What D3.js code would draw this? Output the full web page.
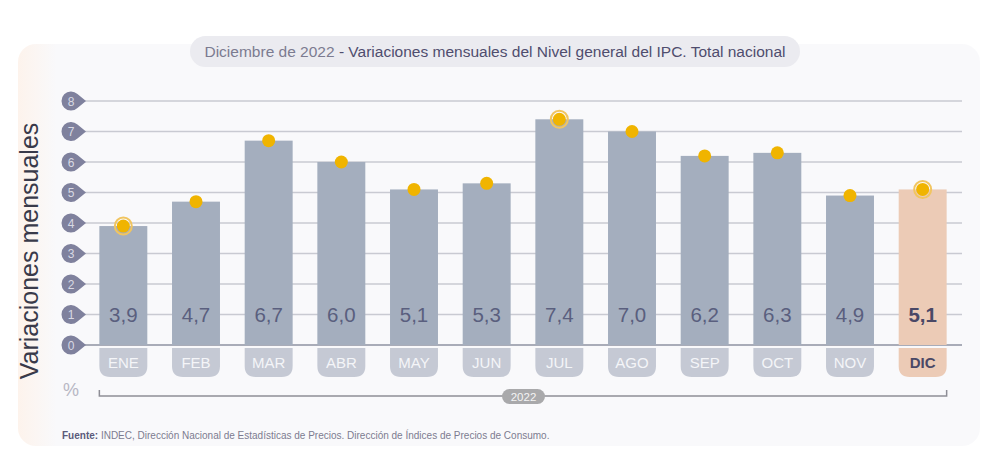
<!DOCTYPE html>
<html><head><meta charset="utf-8">
<script src="https://cdn.jsdelivr.net/npm/d3@7"></script>
<style>body{margin:0;background:#fff;font-family:"Liberation Sans",Arial,sans-serif}</style>
</head><body><svg id="c" width="1000" height="466"></svg>
<script>
const months = ["ENE","FEB","MAR","ABR","MAY","JUN","JUL","AGO","SEP","OCT","NOV","DIC"];
const values = [3.9,4.7,6.7,6.0,5.1,5.3,7.4,7.0,6.2,6.3,4.9,5.1];
const ringed = ["ENE","JUL","DIC"];
const yTicks = [0,1,2,3,4,5,6,7,8];
const yearLabel = "2022";

const svg = d3.select("#c");
const defs = svg.append("defs");
const g1 = defs.append("linearGradient").attr("id","lg").attr("x1",0).attr("x2",1);
g1.append("stop").attr("offset","0").attr("stop-color","#fdf3ec");
g1.append("stop").attr("offset","0.04").attr("stop-color","#f9f9fb");
g1.append("stop").attr("offset","1").attr("stop-color","#f9f9fb");

svg.append("rect").attr("x",18).attr("y",44).attr("width",962).attr("height",402).attr("rx",18).attr("fill","url(#lg)");

// title pill
svg.append("rect").attr("x",190).attr("y",36).attr("width",610).attr("height",31).attr("rx",15.5).attr("fill","#ebebf0");
const t = svg.append("text").attr("x",495).attr("y",57).attr("text-anchor","middle").attr("font-size",15.5).attr("font-family","Liberation Sans, Arial");
t.append("tspan").attr("fill","#7c7b90").text("Diciembre de 2022 ");
t.append("tspan").attr("fill","#4f4d6e").text("- Variaciones mensuales del Nivel general del IPC. Total nacional");

const y = d3.scaleLinear().domain([0,8]).range([345,101]);
const x = d3.scaleBand().domain(months).range([87,959]).paddingInner(0.34).paddingOuter(0.17);

// gridlines
svg.append("g").selectAll("line").data(yTicks).join("line")
  .attr("x1",85).attr("x2",962).attr("y1",d=>y(d)).attr("y2",d=>y(d))
  .attr("stroke",d=>d===0?"#a9acb8":"#c9cad2").attr("stroke-width",d=>d===0?2:1.3);

// y tick badges
const tg = svg.append("g").selectAll("g").data(yTicks).join("g").attr("transform",d=>`translate(71,${y(d)})`);
tg.append("path").attr("d","M 6.45 -6.98 L 15 0 L 6.45 6.98 A 9.5 9.5 0 1 1 6.45 -6.98 Z")
  .attr("fill","#7f819d");
tg.append("text").attr("x",0).attr("y",4.5).attr("text-anchor","middle").attr("font-size",12).attr("fill","#d8d9e4").text(d=>d);

// bars
svg.append("g").selectAll("rect").data(months).join("rect")
  .attr("x",d=>x(d)).attr("width",x.bandwidth())
  .attr("y",(d,i)=>y(values[i])).attr("height",(d,i)=>y(0)-y(values[i]))
  .attr("fill",d=>d==="DIC"?"#eccbb6":"#a4aebe");

// value labels
svg.append("g").selectAll("text").data(months).join("text")
  .attr("x",d=>x(d)+x.bandwidth()/2).attr("y",y(1)+7).attr("text-anchor","middle")
  .attr("font-size",20.5).attr("font-weight",d=>d==="DIC"?"bold":"normal")
  .attr("fill",d=>d==="DIC"?"#4a4866":"#5a5f7e")
  .text((d,i)=>values[i].toFixed(1).replace(".",","));

// month pills
const mp = svg.append("g").selectAll("g").data(months).join("g");
mp.append("path").attr("d",d=>{const x0=x(d), w=x.bandwidth(), y0=348, h=29, r=11;
  return `M${x0},${y0} H${x0+w} V${y0+h-r} Q${x0+w},${y0+h} ${x0+w-r},${y0+h} H${x0+r} Q${x0},${y0+h} ${x0},${y0+h-r} Z`;})
  .attr("fill",d=>d==="DIC"?"#eccbb6":"#c5c9d4");
mp.append("text").attr("x",d=>x(d)+x.bandwidth()/2).attr("y",368).attr("text-anchor","middle")
  .attr("font-size",15).attr("font-weight",d=>d==="DIC"?"bold":"normal")
  .attr("fill",d=>d==="DIC"?"#4a4866":"#f4f5f8").text(d=>d);

// dots
const dg = svg.append("g").selectAll("g").data(months).join("g")
  .attr("transform",(d,i)=>`translate(${x(d)+x.bandwidth()/2},${y(values[i])})`);
dg.filter(d=>ringed.includes(d)).append("circle").attr("r",8.5).attr("fill","none").attr("stroke","#f1c560").attr("stroke-width",2);
dg.append("circle").attr("r",6.5).attr("fill","#f0b400");

// bracket
const bx0 = x("ENE"), bx1 = x("DIC")+x.bandwidth();
svg.append("path").attr("d",`M${bx0},390 V396 H${bx1} V390`).attr("fill","none").attr("stroke","#8e8e96").attr("stroke-width",1.5);
svg.append("rect").attr("x",502).attr("y",389).attr("width",43).attr("height",15).attr("rx",7.5).attr("fill","#a9a9ab");
svg.append("text").attr("x",523.5).attr("y",401).attr("text-anchor","middle").attr("font-size",11.5).attr("fill","#f4f4f4").text(yearLabel);

svg.append("text").attr("x",71).attr("y",396).attr("text-anchor","middle").attr("font-size",18).attr("fill","#b7b7c4").text("%");

svg.append("text").attr("transform","translate(38,251) rotate(-90)").attr("text-anchor","middle")
  .attr("font-size",25).attr("fill","#393a4a").text("Variaciones mensuales");

const s = svg.append("text").attr("x",62).attr("y",439).attr("font-size",10).attr("fill","#7d7c90");
s.append("tspan").attr("font-weight","bold").attr("fill","#5b5a7a").text("Fuente:");
s.append("tspan").text(" INDEC, Dirección Nacional de Estadísticas de Precios. Dirección de Índices de Precios de Consumo.");
</script></body></html>
